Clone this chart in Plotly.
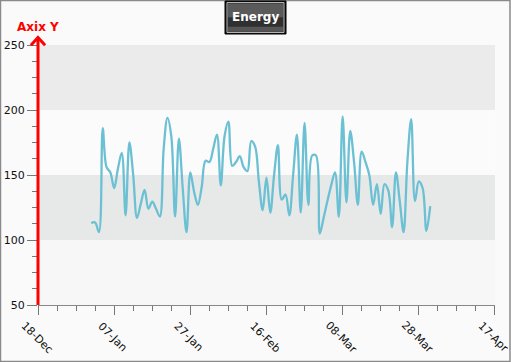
import plotly.graph_objects as go
import pandas as pd

# Data: daily energy values, 1 Jan 2019 .. 31 Mar 2019
dates = pd.date_range("2019-01-01", "2019-03-31", freq="D")
energy = [
    113, 113.5, 106, 186, 156, 152, 140, 155, 167, 119,
    175, 150, 117, 128, 138.5, 124, 129.5, 124, 118, 170,
    194, 180, 118, 178, 140, 106, 152, 137, 127, 141,
    161, 160, 170, 181, 142, 180, 191, 157, 160, 164.5,
    156, 153, 176, 172, 145, 123, 148, 121, 150, 173,
    131, 135, 119, 150, 181, 121, 190, 127, 165, 165,
    105, 117, 130, 142, 152, 118, 195, 129, 184, 160,
    127, 168, 160, 150, 127, 143, 120, 143, 138, 110,
    152, 130, 106, 160, 193, 130, 145, 140, 107, 126,
]
x_range = ["2018-12-18", "2019-04-17 00:20"]
major_ticks = ["2018-12-18", "2019-01-07", "2019-01-27", "2019-02-16",
               "2019-03-08", "2019-03-28", "2019-04-17"]
major_labels = ["18-Dec", "07-Jan", "27-Jan", "16-Feb", "08-Mar", "28-Mar", "17-Apr"]
y_ticks = [50, 100, 150, 200, 250]
bands = [(50, 100, "#f7f7f7"), (100, 150, "#e7e8e8"), (150, 200, "#fbfbfb"), (200, 250, "#ebebeb")]

DAY = 86400000

fig = go.Figure()
fig.add_trace(go.Scatter(
    x=dates, y=energy, mode="lines",
    line=dict(color="#6cc0d3", width=2.3, shape="spline", smoothing=1.0),
    hoverinfo="x+y", showlegend=False,
))

shapes = []
for y0, y1, c in bands:
    shapes.append(dict(type="rect", xref="paper", yref="y", x0=0, x1=1, y0=y0, y1=y1,
                       fillcolor=c, line=dict(width=0), layer="below"))
# red Y axis with arrow
shapes.append(dict(type="line", xref="paper", yref="paper", x0=0, x1=0, y0=0, y1=1.027,
                   line=dict(color="red", width=3)))
shapes.append(dict(type="path", xref="paper", yref="paper",
                   path="M -0.0155,0.999 L 0,1.029 L 0.0155,0.999",
                   line=dict(color="red", width=3)))
# outer frame
shapes.append(dict(type="rect", xref="paper", yref="paper",
                   x0=-0.0821, x1=1.0328, y0=-0.2173, y1=1.1712,
                   line=dict(color="#8a8a8a", width=1.5), fillcolor="rgba(0,0,0,0)"))
# title button
shapes.append(dict(type="rect", xref="paper", yref="paper",
                   x0=0.4092, x1=0.5427, y0=1.0423, y1=1.1692,
                   fillcolor="#111111", line=dict(color="#000000", width=1)))
shapes.append(dict(type="rect", xref="paper", yref="paper",
                   x0=0.4136, x1=0.5383, y0=1.0480, y1=1.1635,
                   fillcolor="#303030", line=dict(color="#b8b8b8", width=1)))
shapes.append(dict(type="rect", xref="paper", yref="paper",
                   x0=0.4158, x1=0.5361, y0=1.1070, y1=1.1600,
                   fillcolor="#5a5a5a", line=dict(width=0)))
shapes.append(dict(type="rect", xref="paper", yref="paper",
                   x0=0.4158, x1=0.5361, y0=1.0510, y1=1.0700,
                   fillcolor="#555555", line=dict(width=0)))

annotations = [
    dict(text="<b>Energy</b>", xref="paper", yref="paper", x=0.476, y=1.106,
         showarrow=False, font=dict(color="white", size=12, family="DejaVu Sans"),
         xanchor="center", yanchor="middle"),
    dict(text="<b>Axix Y</b>", xref="paper", yref="paper", x=0, y=1, yshift=18,
         showarrow=False, font=dict(color="red", size=12, family="DejaVu Sans"),
         xanchor="center", yanchor="middle"),
]
# rotated date labels, centred below each major tick
for tv, tl in zip(major_ticks, major_labels):
    annotations.append(dict(
        text=tl, xref="x", yref="paper", x=tv, y=0, yshift=-32, xshift=-1,
        textangle=45, showarrow=False, xanchor="center", yanchor="middle",
        font=dict(size=11, color="#111", family="DejaVu Sans"),
    ))

fig.update_layout(
    width=511, height=362,
    margin=dict(l=38, r=16, t=45, b=57, autoexpand=False),
    paper_bgcolor="#fafafa", plot_bgcolor="#fafafa",
    font=dict(family="DejaVu Sans", size=11, color="#111111"),
    shapes=shapes,
    annotations=annotations,
    xaxis=dict(
        type="date", range=x_range, tickmode="array", tickvals=major_ticks, ticktext=major_labels,
        showticklabels=False, ticks="outside", ticklen=9, tickcolor="#777", tickwidth=1,
        showline=True, linecolor="#888", linewidth=1, showgrid=False, zeroline=False,
        automargin=False,
        minor=dict(dtick=5 * DAY, tick0="2018-12-18", ticks="outside", ticklen=5,
                   tickcolor="#777", showgrid=False),
    ),
    yaxis=dict(
        range=[50, 250], tickmode="array", tickvals=y_ticks, ticks="outside", ticklen=10,
        tickcolor="#777", tickwidth=1, showline=False, showgrid=False, zeroline=False,
        automargin=False,
        minor=dict(dtick=12.5, tick0=50, ticks="outside", ticklen=5, tickcolor="#777", showgrid=False),
        tickfont=dict(size=11, color="#111"), ticklabelstandoff=0,
    ),
)

fig.write_html(
    "out.html",
    config={"displayModeBar": False},
    post_script="document.body.style.margin='0';document.body.style.overflow='hidden';",
)
